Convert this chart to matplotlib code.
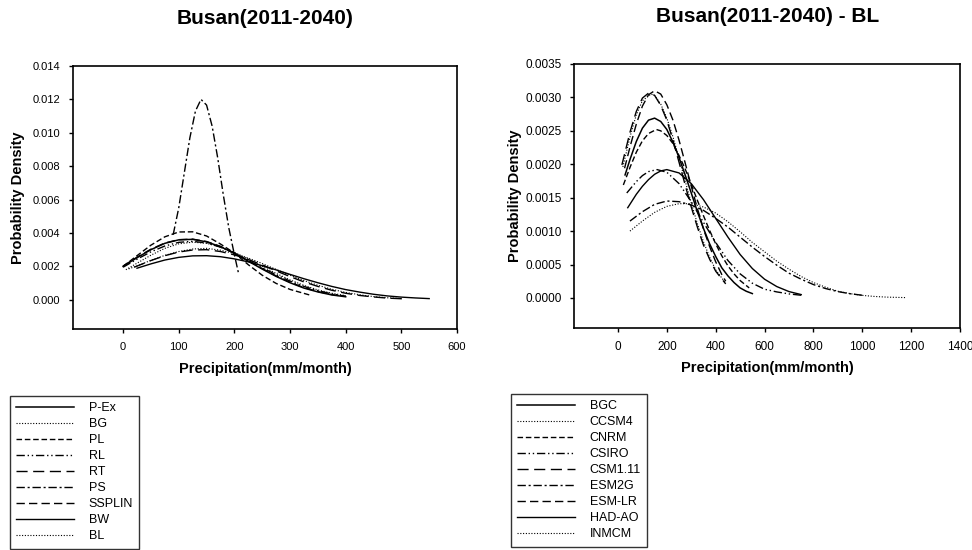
import matplotlib
matplotlib.use("Agg")
import matplotlib.pyplot as plt
import numpy as np

plt.rcParams['font.family'] = ['Liberation Sans', 'DejaVu Sans']

# ---- left panel: Busan(2011-2040), densities in units of 1e-3 ----
left_names = ["P-Ex", "BG", "PL", "RL", "RT", "PS", "SSPLIN", "BW", "BL"]

x_pex = [0, 25, 50, 75, 100, 125, 150, 175, 200, 225, 250, 275, 300, 325, 350, 375, 400]
y_pex = [2.0, 2.52, 3.0, 3.38, 3.59, 3.62, 3.47, 3.18, 2.78, 2.31, 1.84, 1.40, 1.02, 0.70, 0.47, 0.29, 0.18]

x_bg = [5, 25, 50, 75, 100, 125, 150, 175, 200, 225, 250, 275, 300, 325, 350, 375, 400]
y_bg = [1.8, 2.19, 2.67, 3.08, 3.35, 3.45, 3.38, 3.16, 2.84, 2.44, 2.0, 1.58, 1.19, 0.86, 0.59, 0.39, 0.25]

x_pl = [0, 25, 50, 75, 100, 125, 150, 175, 200, 225, 250, 275, 300, 338]
y_pl = [2.0, 2.64, 3.27, 3.77, 4.06, 4.07, 3.82, 3.34, 2.80, 2.10, 1.47, 0.98, 0.62, 0.26]

x_rl = [0, 25, 50, 75, 100, 125, 150, 175, 200, 225, 250, 275, 300, 325, 350, 375, 400]
y_rl = [1.95, 2.43, 2.87, 3.22, 3.44, 3.50, 3.40, 3.15, 2.79, 2.36, 1.92, 1.50, 1.12, 0.80, 0.55, 0.35, 0.21]

x_rt = [20, 50, 75, 100, 125, 150, 175, 200, 225, 250, 275, 300, 325, 350, 375, 400, 425, 450, 475, 502]
y_rt = [1.95, 2.35, 2.64, 2.86, 2.98, 3.0, 2.89, 2.69, 2.41, 2.09, 1.73, 1.39, 1.07, 0.80, 0.57, 0.39, 0.26, 0.17, 0.10, 0.06]

x_ps = [90, 100, 110, 120, 130, 140, 150, 160, 170, 180, 190, 200, 208]
y_ps = [3.9, 5.5, 7.6, 9.7, 11.3, 12.0, 11.66, 10.4, 8.5, 6.3, 4.3, 2.7, 1.5]

x_ss = [0, 25, 50, 75, 100, 125, 150, 175, 200, 225, 250, 275, 300, 325, 350, 375, 400]
y_ss = [2.02, 2.55, 3.03, 3.40, 3.60, 3.63, 3.49, 3.20, 2.80, 2.34, 1.87, 1.43, 1.05, 0.73, 0.49, 0.31, 0.20]

x_bw = [25, 50, 75, 100, 125, 150, 175, 200, 225, 250, 275, 300, 325, 350, 375, 400, 425, 450, 475, 500, 525, 550]
y_bw = [1.89, 2.15, 2.38, 2.54, 2.63, 2.64, 2.58, 2.45, 2.27, 2.04, 1.79, 1.52, 1.26, 1.02, 0.80, 0.61, 0.46, 0.33, 0.23, 0.16, 0.11, 0.07]

x_bl = [10, 25, 50, 75, 100, 125, 150, 175, 200, 225, 250, 275, 300, 325, 350, 375, 400, 425, 450, 475, 500]
y_bl = [1.85, 2.03, 2.36, 2.66, 2.89, 3.04, 3.08, 2.97, 2.77, 2.50, 2.17, 1.82, 1.47, 1.15, 0.87, 0.63, 0.44, 0.30, 0.19, 0.12, 0.07]

left_x = [x_pex, x_bg, x_pl, x_rl, x_rt, x_ps, x_ss, x_bw, x_bl]
left_y = [y_pex, y_bg, y_pl, y_rl, y_rt, y_ps, y_ss, y_bw, y_bl]

# ---- right panel: Busan(2011-2040) - BL, densities in units of 1e-3 ----
right_names = ["BGC", "CCSM4", "CNRM", "CSIRO", "CSM1.11", "ESM2G", "ESM-LR", "HAD-AO", "INMCM"]

x_bgc = [29, 50, 75, 100, 125, 150, 175, 200, 225, 250, 275, 300, 325, 350, 375, 400, 425, 450, 475, 500, 525, 550]
y_bgc = [1.84, 2.08, 2.34, 2.54, 2.66, 2.69, 2.64, 2.52, 2.33, 2.10, 1.84, 1.57, 1.29, 1.04, 0.81, 0.62, 0.45, 0.33, 0.23, 0.15, 0.10, 0.065]

x_ccsm = [49, 100, 150, 200, 250, 300, 350, 400, 450, 500, 550, 600, 650, 700, 750, 800, 850, 900, 950, 1000, 1050, 1100, 1175]
y_ccsm = [1.0, 1.15, 1.28, 1.37, 1.41, 1.41, 1.36, 1.27, 1.14, 0.99, 0.83, 0.69, 0.55, 0.43, 0.32, 0.23, 0.16, 0.10, 0.064, 0.038, 0.022, 0.012, 0.005]

x_cnrm = [22, 50, 75, 100, 125, 157, 175, 200, 225, 250, 275, 300, 325, 350, 375, 400, 425, 450, 475, 500, 537]
y_cnrm = [1.69, 1.96, 2.18, 2.35, 2.46, 2.52, 2.50, 2.43, 2.31, 2.13, 1.93, 1.70, 1.46, 1.23, 1.01, 0.81, 0.63, 0.48, 0.36, 0.26, 0.15]

x_csiro = [36, 75, 100, 125, 160, 200, 250, 300, 350, 400, 450, 500, 550, 600, 650, 700, 750]
y_csiro = [1.57, 1.74, 1.83, 1.89, 1.92, 1.88, 1.71, 1.44, 1.13, 0.83, 0.56, 0.36, 0.22, 0.13, 0.09, 0.06, 0.04]

x_csm = [16, 50, 75, 100, 127, 150, 175, 200, 225, 250, 275, 300, 325, 350, 375, 400, 441]
y_csm = [1.99, 2.49, 2.79, 2.99, 3.07, 3.03, 2.88, 2.66, 2.36, 2.03, 1.69, 1.36, 1.06, 0.79, 0.58, 0.40, 0.21]

x_esm2g = [49, 100, 150, 200, 250, 300, 350, 400, 450, 500, 550, 600, 650, 700, 750, 800, 850, 900, 950, 1000]
y_esm2g = [1.15, 1.29, 1.40, 1.45, 1.44, 1.39, 1.31, 1.19, 1.06, 0.91, 0.76, 0.62, 0.49, 0.37, 0.28, 0.20, 0.14, 0.095, 0.063, 0.04]

x_esmlr = [27, 50, 75, 100, 125, 150, 175, 200, 225, 250, 275, 300, 325, 350, 375, 400, 425, 441]
y_esmlr = [1.94, 2.27, 2.60, 2.87, 3.04, 3.10, 3.05, 2.89, 2.66, 2.36, 2.02, 1.67, 1.34, 1.03, 0.77, 0.54, 0.35, 0.25]

x_had = [40, 75, 100, 125, 150, 175, 200, 250, 300, 350, 400, 450, 500, 550, 600, 650, 700, 750]
y_had = [1.35, 1.55, 1.67, 1.77, 1.85, 1.90, 1.92, 1.87, 1.71, 1.47, 1.19, 0.91, 0.65, 0.44, 0.28, 0.17, 0.095, 0.05]

x_inm = [20, 50, 75, 100, 135, 150, 175, 200, 225, 250, 275, 300, 325, 350, 375, 400, 441]
y_inm = [1.96, 2.42, 2.74, 2.95, 3.05, 3.03, 2.90, 2.69, 2.41, 2.09, 1.75, 1.42, 1.11, 0.84, 0.61, 0.42, 0.22]

right_x = [x_bgc, x_ccsm, x_cnrm, x_csiro, x_csm, x_esm2g, x_esmlr, x_had, x_inm]
right_y = [y_bgc, y_ccsm, y_cnrm, y_csiro, y_csm, y_esm2g, y_esmlr, y_had, y_inm]

# same line-style sequence is used in both panels
styles = ['-', (0, (1, 1.5)), (0, (4, 2)), (0, (6, 2, 1, 2, 1, 2)), (0, (8, 4)),
          (0, (6, 2, 1.5, 2)), (0, (6, 3)), '-', (0, (1, 1.5))]
widths = [1.1, 0.8, 1.0, 1.0, 1.0, 1.0, 1.0, 1.0, 0.8]

fig = plt.figure(figsize=(9.72, 5.5), dpi=100)
ax1 = fig.add_axes([73 / 972, 1 - 329 / 550, 384 / 972, 263 / 550])
ax2 = fig.add_axes([574 / 972, 1 - 328 / 550, 386 / 972, 264 / 550])


def draw(ax, xs, ys, names, tsize):
    for x, y, ls, lw, name in zip(xs, ys, styles, widths, names):
        ax.plot(x, np.array(y) * 1e-3, color='black', linestyle=ls, linewidth=lw, label=name)
    for sp in ax.spines.values():
        sp.set_linewidth(1.2)
    ax.tick_params(direction='out', length=3, width=1, labelsize=tsize, pad=6)
    ax.set_xlabel("Precipitation(mm/month)", fontsize=10.5, fontweight='bold')
    ax.set_ylabel("Probability Density", fontsize=10.5, fontweight='bold')


draw(ax1, left_x, left_y, left_names, 8)
ax1.set_xlim(-90, 600)
ax1.set_ylim(-0.00175, 0.014)
ax1.set_xticks([0, 100, 200, 300, 400, 500, 600])
ax1.set_yticks(np.arange(0, 0.0141, 0.002))
ax1.yaxis.set_major_formatter(matplotlib.ticker.FormatStrFormatter('%.3f'))
ax1.xaxis.set_label_coords(0.5, -0.125)
ax1.yaxis.set_label_coords(-0.125, 0.5)

draw(ax2, right_x, right_y, right_names, 8.5)
ax2.set_xlim(-180, 1400)
ax2.set_ylim(-0.00045, 0.0035)
ax2.set_xticks(range(0, 1401, 200))
ax2.set_yticks(np.arange(0, 0.00351, 0.0005))
ax2.yaxis.set_major_formatter(matplotlib.ticker.FormatStrFormatter('%.4f'))
ax2.xaxis.set_label_coords(0.5, -0.125)
ax2.yaxis.set_label_coords(-0.135, 0.5)

fig.text(265 / 972, 1 - 18 / 550, "Busan(2011-2040)", ha='center', va='center',
         fontsize=15, fontweight='bold')
fig.text(768 / 972, 1 - 17 / 550, "Busan(2011-2040) - BL", ha='center', va='center',
         fontsize=15, fontweight='bold')

for ax, x0, y0 in [(ax1, 10, 396), (ax2, 511, 394)]:
    h, l = ax.get_legend_handles_labels()
    leg = fig.legend(h, l, loc='upper left', bbox_to_anchor=(x0 / 972, 1 - y0 / 550),
                     fontsize=9, handlelength=4.6, labelspacing=0.32, handletextpad=1.2,
                     borderpad=0.5, fancybox=False, frameon=True, borderaxespad=0)
    frame = leg.get_frame()
    frame.set_edgecolor('black')
    frame.set_linewidth(1.0)

fig.savefig("out.png", dpi=100)
